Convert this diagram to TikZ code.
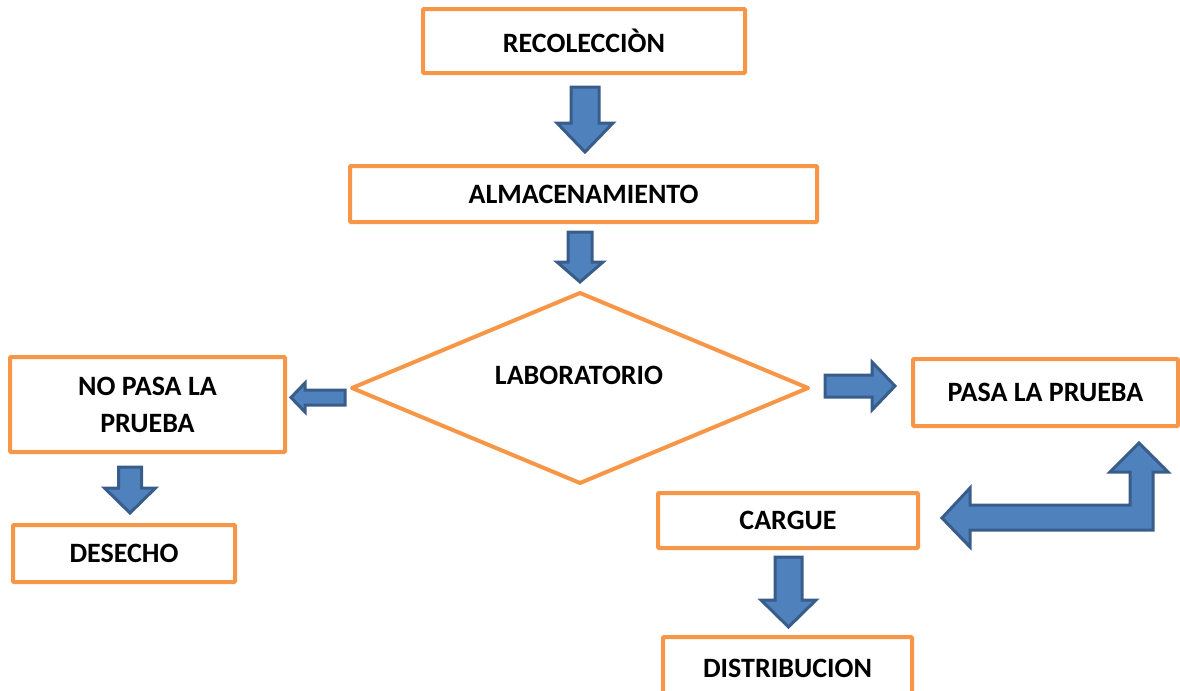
\documentclass[tikz,border=0pt]{standalone}
\usepackage{fontspec}
\setmainfont{Carlito}
\usepackage{tikz}

\definecolor{boxorange}{HTML}{F79646}
\definecolor{arrowfill}{HTML}{4F81BD}
\definecolor{arrowline}{HTML}{385D8A}

% block arrow pointing down: centre x, top y, head y, tip y, shaft half, head half
\newcommand{\downblock}[6]{%
  \draw[blockarrow] (#1-#5,#2) -- (#1+#5,#2) -- (#1+#5,#3) -- (#1+#6,#3)
    -- (#1,#4) -- (#1-#6,#3) -- (#1-#5,#3) -- cycle;}
% block arrow sideways: centre y, start x, head x, tip x, shaft half, head half
\newcommand{\sideblock}[6]{%
  \draw[blockarrow] (#2,#1-#5) -- (#3,#1-#5) -- (#3,#1-#6) -- (#4,#1)
    -- (#3,#1+#6) -- (#3,#1+#5) -- (#2,#1+#5) -- cycle;}

\begin{document}
\begin{tikzpicture}[
  x=0.5pt, y=-0.5pt,
  sbox/.style={draw=boxorange,line width=2pt,rectangle,fill=white,rounded corners=0.5pt,
    inner sep=0pt,align=center,font=\fontsize{14}{18.5}\selectfont\bfseries},
  blockarrow/.style={draw=arrowline,fill=arrowfill,line width=1.5pt,line join=miter},
  decision/.style={draw=boxorange,line width=2pt,line join=round}
]
  \useasboundingbox (0,0) rectangle (1180,691);

  % process boxes
  \node[sbox,minimum width=161pt,minimum height=32pt] (rec) at (584,41) {RECOLECCIÒN};
  \node[sbox,minimum width=233.5pt,minimum height=28pt] (alm) at (583.5,194) {ALMACENAMIENTO};
  \node[sbox,minimum width=137.5pt,minimum height=47.5pt] (nop) at (147.5,404.5) {NO PASA LA\\PRUEBA};
  \node[sbox,minimum width=111pt,minimum height=28.5pt] (des) at (124,553.5) {DESECHO};
  \node[sbox,minimum width=132.5pt,minimum height=33.5pt] (pas) at (1045.5,392.5) {PASA LA PRUEBA};
  \node[sbox,minimum width=130pt,minimum height=27.5pt] (car) at (788,520.5) {CARGUE};
  \node[sbox,minimum width=124.5pt,minimum height=31pt] (dis) at (787.5,668) {DISTRIBUCION};

  % decision
  \coordinate (labt) at (580,293);
  \coordinate (labl) at (352,388);
  \coordinate (labr) at (808,388);
  \coordinate (labb) at (580,483);
  \draw[decision] (labt) -- (labr) -- (labb) -- (labl) -- cycle;
  \node[font=\fontsize{14}{17}\selectfont\bfseries] (lab) at (579,375) {LABORATORIO};

  % down arrows
  \downblock{585}{87}{123}{152}{14}{28}
  \downblock{580}{232}{262}{282}{12}{23}
  \downblock{130}{467}{488}{513}{11.5}{25.5}
  \downblock{788.5}{557}{600}{627}{13.5}{27.5}

  % side arrows
  \sideblock{397.5}{345}{305}{291}{7.5}{14.5}
  \sideblock{386}{825}{872}{895}{11}{24}

  % bent arrow back to cargue
  \draw[blockarrow] (1153,530) -- (970,530) -- (970,547) -- (942,518) -- (970,488)
    -- (970,505) -- (1130,505) -- (1130,472) -- (1110,472) -- (1139,443)
    -- (1168,472) -- (1153,472) -- cycle;

\end{tikzpicture}
\end{document}
